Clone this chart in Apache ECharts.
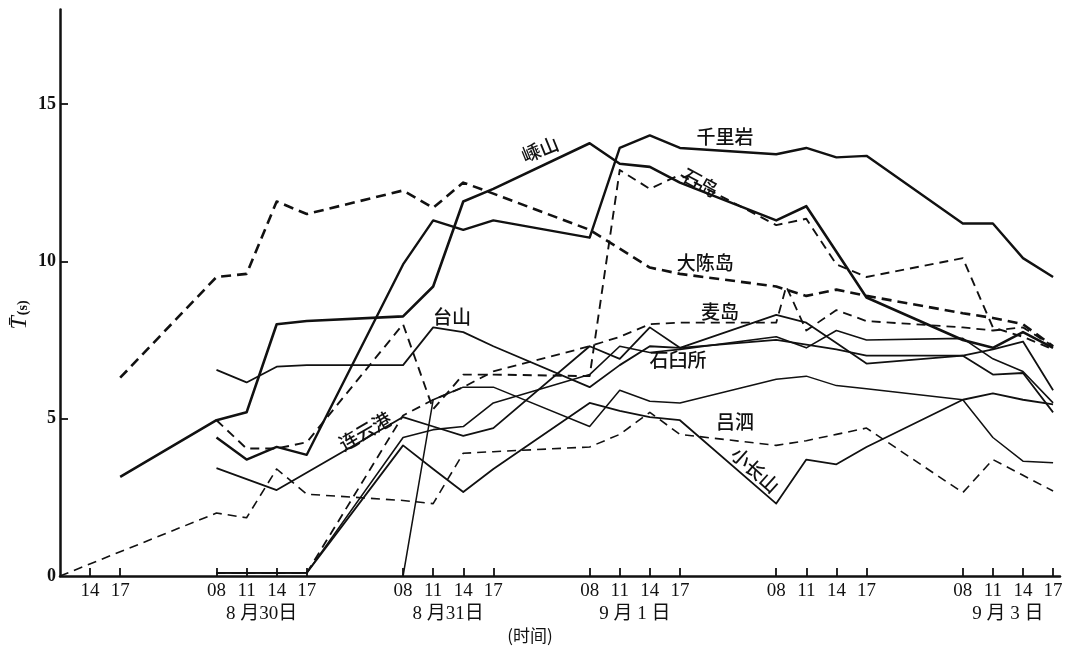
<!DOCTYPE html>
<html>
<head>
<meta charset="utf-8">
<script src="https://cdn.jsdelivr.net/npm/echarts@6/dist/echarts.min.js"></script>
<style>
  html, body { margin: 0; padding: 0; background: #fff; }
  #c { width: 1072px; height: 649px; }
</style>
</head>
<body>
<div id="c"></div>
<script>
// Observation days, 29 Aug … 3 Sep; nights are compressed on the time axis
const days = ['29', '30', '31', '01', '02', '03'];
const dayLabels = { '30': '8 月30日', '31': '8 月31日', '01': '9 月 1 日', '03': '9 月 3 日' };
const hourTicks = ['29 14', '29 17',
  '30 08', '30 11', '30 14', '30 17',
  '31 08', '31 11', '31 14', '31 17',
  '01 08', '01 11', '01 14', '01 17',
  '02 08', '02 11', '02 14', '02 17',
  '03 08', '03 11', '03 14', '03 17'];
const yTicks = [0, 5, 10, 15];

// Mean wave period T (s) per station: [day hour, value]
const daChenDao = [['29 17', 6.3], ['30 08', 9.5], ['30 11', 9.6], ['30 14', 11.9], ['30 17', 11.5],
  ['31 08', 12.25], ['31 11', 11.7], ['31 14', 12.5], ['31 17', 12.15],
  ['01 08', 11.0], ['01 11', 10.4], ['01 14', 9.8], ['01 17', 9.6],
  ['02 08', 9.2], ['02 11', 8.9], ['02 14', 9.1], ['02 17', 8.9],
  ['03 08', 8.35], ['03 11', 8.2], ['03 14', 8.0], ['03 17', 7.3]];
const lvSi = [['29 11', 0], ['30 08', 2.0], ['30 11', 1.85], ['30 14', 3.4], ['30 17', 2.6],
  ['31 08', 2.4], ['31 11', 2.3], ['31 14', 3.9], ['31 17', 3.95],
  ['01 08', 4.1], ['01 11', 4.5], ['01 14', 5.2], ['01 17', 4.5],
  ['02 08', 4.15], ['02 11', 4.3], ['02 14', 4.5], ['02 17', 4.7],
  ['03 08', 2.65], ['03 11', 3.7], ['03 14', 3.2], ['03 17', 2.7]];
const shengShan = [['29 17', 3.15], ['30 08', 4.95], ['30 11', 5.2], ['30 14', 8.0], ['30 17', 8.1],
  ['31 08', 8.25], ['31 11', 9.2], ['31 14', 11.9], ['31 17', 12.3],
  ['01 08', 13.75], ['01 11', 13.1], ['01 14', 13.0], ['01 17', 12.5],
  ['02 08', 11.3], ['02 11', 11.75], ['02 14', 10.3], ['02 17', 8.85],
  ['03 08', 7.5], ['03 11', 7.25], ['03 14', 7.75], ['03 17', 7.25]];
const qianLiYan = [['30 08', 4.4], ['30 11', 3.7], ['30 14', 4.1], ['30 17', 3.85],
  ['31 08', 9.9], ['31 11', 11.3], ['31 14', 11.0], ['31 17', 11.3],
  ['01 08', 10.75], ['01 11', 13.6], ['01 14', 14.0], ['01 17', 13.6],
  ['02 08', 13.4], ['02 11', 13.6], ['02 14', 13.3], ['02 17', 13.35],
  ['03 08', 11.2], ['03 11', 11.2], ['03 14', 10.1], ['03 17', 9.5]];
const taiShan = [['30 08', 6.55], ['30 11', 6.15], ['30 14', 6.65], ['30 17', 6.7],
  ['31 08', 6.7], ['31 11', 7.9], ['31 14', 7.75], ['31 17', 7.3],
  ['01 08', 6.0], ['01 11', 6.7], ['01 14', 7.3], ['01 17', 7.25],
  ['02 08', 7.5], ['02 11', 7.35], ['02 14', 7.2], ['02 17', 7.0],
  ['03 08', 7.0], ['03 11', 7.2], ['03 14', 7.45], ['03 17', 5.9]];
const shiDao = [['30 08', 4.95], ['30 11', 4.05], ['30 14', 4.05], ['30 17', 4.25],
  ['31 08', 8.0], ['31 11', 5.3], ['31 14', 6.4], ['31 17', 6.4],
  ['01 08', 6.35], ['01 11', 12.9], ['01 14', 12.3], ['01 17', 12.75],
  ['02 08', 11.15], ['02 11', 11.35], ['02 14', 9.9], ['02 17', 9.5],
  ['03 08', 10.1], ['03 11', 7.9], ['03 14', 7.6], ['03 17', 7.2]];
const lianYunGang = [['30 08', 3.43], ['30 14', 2.73],
  ['31 08', 5.05], ['31 11', 4.75], ['31 14', 4.45], ['31 17', 4.7],
  ['01 08', 7.3], ['01 11', 6.9], ['01 14', 7.9], ['01 17', 7.25],
  ['02 08', 8.3], ['02 11', 8.05], ['02 14', 7.4], ['02 17', 6.75],
  ['03 08', 7.0], ['03 11', 6.4], ['03 14', 6.45], ['03 17', 5.2]];
const maiDao = [['30 08', 0.1], ['30 11', 0.1], ['30 14', 0.1], ['30 17', 0.1],
  ['31 08', 5.1], ['31 11', 5.6], ['31 14', 6.0], ['31 17', 6.5],
  ['01 08', 7.3], ['01 11', 7.6], ['01 14', 8.0], ['01 17', 8.05],
  ['02 08', 8.05], ['02 09', 9.2], ['02 11', 7.8], ['02 14', 8.45], ['02 17', 8.1],
  ['03 08', 7.9], ['03 11', 7.8], ['03 14', 7.9], ['03 17', 7.3]];
const shiJiuSuo = [['30 08', 0.1], ['30 11', 0.1], ['30 14', 0.1], ['30 17', 0.1],
  ['31 08', 4.4], ['31 11', 4.65], ['31 14', 4.75], ['31 17', 5.5],
  ['01 08', 6.4], ['01 11', 7.3], ['01 14', 7.1], ['01 17', 7.2],
  ['02 08', 7.6], ['02 11', 7.25], ['02 14', 7.8], ['02 17', 7.5],
  ['03 08', 7.55], ['03 11', 6.9], ['03 14', 6.5], ['03 17', 5.5]];
const xiaoChangShan = [['30 08', 0.1], ['30 11', 0.1], ['30 14', 0.1], ['30 17', 0.1],
  ['31 08', 4.15], ['31 11', 3.4], ['31 14', 2.67], ['31 17', 3.4],
  ['01 08', 5.5], ['01 11', 5.25], ['01 14', 5.05], ['01 17', 4.95],
  ['02 08', 2.3], ['02 11', 3.7], ['02 14', 3.55], ['02 17', 4.1],
  ['03 08', 5.6], ['03 11', 5.8], ['03 14', 5.6], ['03 17', 5.45]];
const stationK = [['31 08', 0], ['31 11', 5.6], ['31 14', 6.0], ['31 17', 6.0],
  ['01 08', 4.75], ['01 11', 5.9], ['01 14', 5.55], ['01 17', 5.5],
  ['02 08', 6.25], ['02 11', 6.35], ['02 14', 6.05], ['02 17', 5.95],
  ['03 08', 5.6], ['03 11', 4.4], ['03 14', 3.65], ['03 17', 3.6]];

// Station names written beside their curves: [x (axis units), T, rotation in degrees]
const nameTags = [
  ['嵊山', 10.75, 13.55, 22], ['千里岩', 16.9, 13.95, 0], ['石岛', 16.07, 12.5, -28],
  ['大陈岛', 16.24, 9.95, 0], ['麦岛', 16.73, 8.4, 0], ['台山', 7.83, 8.25, 0],
  ['石臼所', 15.34, 6.86, 0], ['连云港', 4.94, 4.6, 30], ['吕泗', 17.23, 4.9, 0],
  ['小长山', 17.9, 3.37, -42]
];

const DAY_SPAN = 6.2;           // one day block (08 → next 08) in 3-hour units
function tx(code) {
  const parts = code.split(' ');
  return (days.indexOf(parts[0]) - 1) * DAY_SPAN + (parseFloat(parts[1]) - 8) / 3;
}
const X_MIN = tx('29 11');
const X_MAX = tx('03 17') + 0.23;

const hourPos = hourTicks.map(tx);
const hourText = {};
hourTicks.forEach(function (c) { hourText[tx(c).toFixed(3)] = c.split(' ')[1]; });
const dayPos = Object.keys(dayLabels).map(function (d) { return tx(d + ' 12.5'); });
const dayText = {};
Object.keys(dayLabels).forEach(function (d) { dayText[tx(d + ' 12.5').toFixed(3)] = dayLabels[d]; });

function pts(arr) { return arr.map(function (p) { return [tx(p[0]), p[1]]; }); }

const INK = '#111';
function line(name, arr, width, dash) {
  return {
    name: name, type: 'line', data: pts(arr), showSymbol: false, symbol: 'none',
    animation: false, silent: true,
    lineStyle: { color: INK, width: width, type: dash ? dash : 'solid', cap: 'butt', join: 'round' }
  };
}

const series = [
  line('大陈岛', daChenDao, 2.6, [10, 6]),
  line('吕泗', lvSi, 1.6, [9, 6]),
  line('嵊山', shengShan, 2.6),
  line('千里岩', qianLiYan, 2.4),
  line('台山', taiShan, 1.8),
  line('石岛', shiDao, 1.9, [9, 6]),
  line('连云港', lianYunGang, 1.8),
  line('麦岛', maiDao, 1.8, [9, 6]),
  line('石臼所', shiJiuSuo, 1.6),
  line('小长山', xiaoChangShan, 1.8),
  line('K', stationK, 1.5)
];

const chart = echarts.init(document.getElementById('c'));
chart.setOption({
  backgroundColor: '#fff',
  animation: false,
  grid: { left: 60, right: 12, top: 9.5, bottom: 73, containLabel: false },
  xAxis: [{
    type: 'value', min: X_MIN, max: X_MAX,
    axisLine: { show: true, onZero: false, lineStyle: { color: INK, width: 2.5 } },
    axisTick: { show: true, inside: true, length: 8, customValues: hourPos, lineStyle: { color: INK, width: 1.8 } },
    axisLabel: {
      customValues: hourPos, margin: 6,
      formatter: function (v) { return hourText[v.toFixed(3)] || ''; },
      fontFamily: 'Liberation Serif', fontSize: 19, color: INK
    },
    splitLine: { show: false }
  }, {
    type: 'value', min: X_MIN, max: X_MAX, position: 'bottom', offset: 23,
    axisLine: { show: false }, axisTick: { show: false }, splitLine: { show: false },
    axisLabel: {
      customValues: dayPos, margin: 6,
      formatter: function (v) { return dayText[v.toFixed(3)] || ''; },
      fontFamily: '"Liberation Serif", "Noto Sans CJK SC"', fontSize: 19, color: INK
    }
  }],
  yAxis: {
    type: 'value', min: 0, max: 18,
    axisLine: { show: true, onZero: false, lineStyle: { color: INK, width: 2.5 } },
    axisTick: { show: true, inside: true, length: 8, customValues: [5, 10, 15], lineStyle: { color: INK, width: 1.8 } },
    axisLabel: {
      customValues: yTicks, margin: 4,
      fontFamily: 'Liberation Serif', fontWeight: 'bold', fontSize: 18, color: INK
    },
    splitLine: { show: false }
  },
  series: series
});

// Station names, axis title and unit label
const graphics = nameTags.map(function (t) {
  const p = chart.convertToPixel({ gridIndex: 0 }, [t[1], t[2]]);
  return {
    type: 'text', x: p[0], y: p[1], rotation: t[3] * Math.PI / 180, silent: true,
    style: { text: t[0], fill: INK, font: '500 19px "Noto Sans CJK SC"', align: 'center', verticalAlign: 'middle' }
  };
});
graphics.push({
  type: 'text', x: 530, y: 636, silent: true,
  style: { text: '(时间)', fill: INK, font: '17px "Noto Sans CJK SC"', align: 'center', verticalAlign: 'middle' }
});
graphics.push({
  type: 'text', x: 20, y: 315, rotation: Math.PI / 2, silent: true,
  style: {
    text: '{t|T\u0304}{s|(s)}', align: 'center', verticalAlign: 'middle',
    rich: {
      t: { font: 'italic 24px "Liberation Serif"', fill: INK },
      s: { font: 'bold 14px "Liberation Serif"', fill: INK, padding: [7, 0, 0, 1] }
    }
  }
});
chart.setOption({ graphic: graphics });
</script>
</body>
</html>
